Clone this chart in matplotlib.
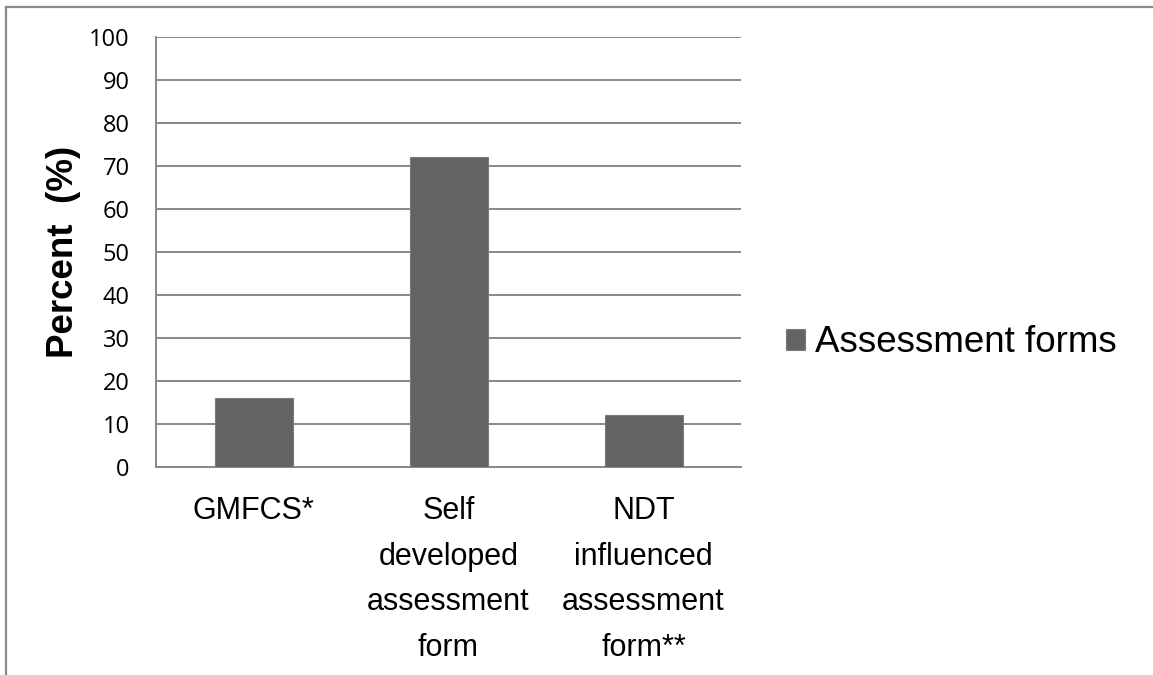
import matplotlib.pyplot as plt
from matplotlib.lines import Line2D

categories = ['GMFCS*', 'Self\ndeveloped\nassessment\nform', 'NDT\ninfluenced\nassessment\nform**']
values = [16, 72, 12]
series_name = 'Assessment forms'
yticks = list(range(0, 101, 10))

bar_color = '#636363'
grid_color = '#898989'

fig = plt.figure(figsize=(11.53, 6.75), dpi=100)
ax = fig.add_axes([156 / 1153, 1 - 467 / 675, 585 / 1153, 430 / 675])

x = range(len(categories))
ax.bar(x, values, width=0.4, color=bar_color, edgecolor='#7a7a7a', linewidth=0.8,
       label=series_name, zorder=3)

ax.set_xlim(-0.5, len(categories) - 0.5)
ax.set_ylim(0, 100)
ax.set_yticks(yticks)
ax.set_yticklabels([str(t) for t in yticks], family=['Open Sans', 'DejaVu Sans'], fontsize=17)
ax.set_xticks(list(x))
ax.set_xticklabels(categories, family=['Liberation Sans', 'DejaVu Sans'], fontsize=22,
                   linespacing=1.68, va='top')
ax.tick_params(axis='both', length=0)
ax.tick_params(axis='y', pad=19)
ax.tick_params(axis='x', pad=21)

ax.grid(axis='y', color=grid_color, linewidth=1.4, zorder=0)
for side in ['top', 'right']:
    ax.spines[side].set_visible(False)
for side in ['left', 'bottom']:
    ax.spines[side].set_color(grid_color)
    ax.spines[side].set_linewidth(1.4)

ax.set_ylabel('Percent  (%)', family=['Liberation Sans', 'DejaVu Sans'], fontsize=26.5,
              fontweight='bold')
ax.yaxis.set_label_coords(-0.128, 0.5)

ax.legend(loc='center left', bbox_to_anchor=(786 / 1153, 1 - 343 / 675),
          bbox_transform=fig.transFigure, frameon=False, borderpad=0, borderaxespad=0,
          handlelength=0.52, handleheight=0.52, handletextpad=0.27,
          prop={'family': ['Liberation Sans', 'DejaVu Sans'], 'size': 26.5})

# outer chart frame
fig.add_artist(Line2D([5.5 / 1153, 1], [1 - 7 / 675, 1 - 7 / 675], color=grid_color,
                      linewidth=1.6, transform=fig.transFigure))
fig.add_artist(Line2D([5.5 / 1153, 5.5 / 1153], [0, 1 - 7 / 675], color=grid_color,
                      linewidth=1.6, transform=fig.transFigure))

fig.savefig('out.png', dpi=100)
